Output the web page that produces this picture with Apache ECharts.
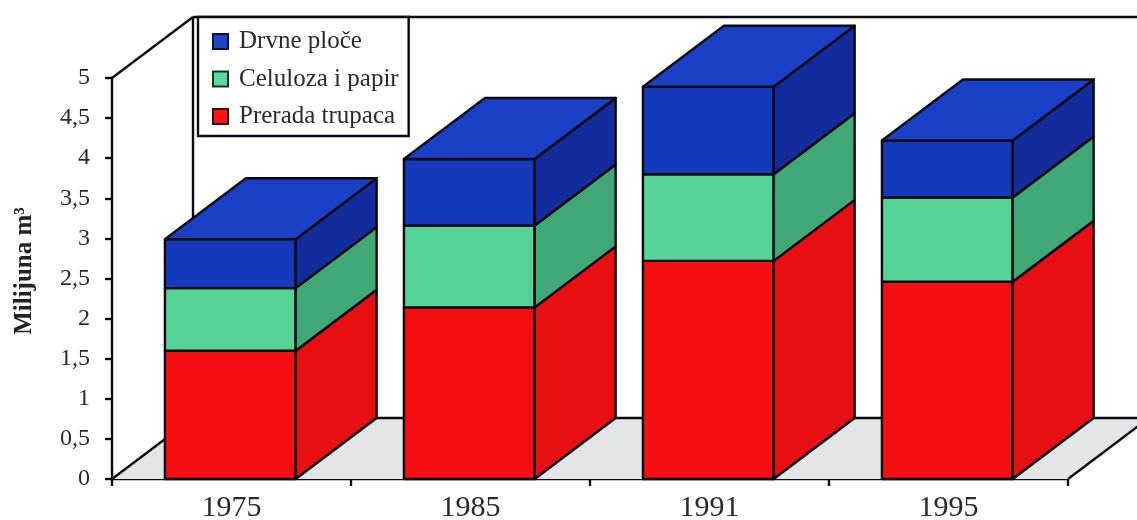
<!DOCTYPE html>
<html><head><meta charset="utf-8">
<style>html,body{margin:0;padding:0;background:#fff}#c{width:1137px;height:520px}</style>
<script src="https://cdn.jsdelivr.net/npm/echarts@6/dist/echarts.min.js"></script>
</head><body><div id="c"></div>
<script>
const years = ['1975','1985','1991','1995'];
const prerada = [1.6, 2.14, 2.72, 2.46];
const celuloza = [0.78, 1.02, 1.08, 1.05];
const drvne = [0.61, 0.83, 1.09, 0.71];
const names = ['Prerada trupaca','Celuloza i papir','Drvne ploče'];
const DX = 81, DY = -61, INK = '#0a0a12', SERIF = '"Liberation Serif","Times New Roman",serif';
const faces = [
  {front:'#f60f12', side:'#e80f12', swatch:'#fb1414', border:'#3a0505'},
  {front:'#56d396', side:'#40a877', swatch:'#5cd79e', border:'#0d3a22'},
  {front:'#1539bb', side:'#132c9c', top:'#1a40c6', swatch:'#1c48c2', border:'#050f40'}
];
const chart = echarts.init(document.getElementById('c'), null, {renderer:'canvas'});
const stacked = [prerada, celuloza, drvne];
function segData(k){
  return years.map((y,i)=>{
    let lo=0; for(let j=0;j<k;j++) lo+=stacked[j][i];
    return [i, lo, lo+stacked[k][i]];
  });
}
function poly(pts, fill){
  return {type:'polygon', shape:{points:pts},
    style:{fill:fill, stroke:INK, lineWidth:2.4, lineJoin:'round'}};
}
function barRender(k){
  return function(params, api){
    const c = api.coord([api.value(0), api.value(1)]);
    const t = api.coord([api.value(0), api.value(2)]);
    const w = api.size([1,0])[0]*0.547;
    const l = c[0]-w/2-1.2, r = c[0]+w/2-1.2, f = faces[k];
    const kids = [
      poly([[l,t[1]],[r,t[1]],[r,c[1]],[l,c[1]]], f.front),
      poly([[r,t[1]],[r+DX,t[1]+DY],[r+DX,c[1]+DY],[r,c[1]]], f.side)
    ];
    if(f.top) kids.push(poly([[l,t[1]],[l+DX,t[1]+DY],[r+DX,t[1]+DY],[r,t[1]]], f.top));
    return {type:'group', children:kids};
  };
}
function frameRender(params, api){
  const o = api.coord([0,0]), tl = api.coord([0,5]), band = api.size([1,0])[0];
  const x0 = o[0]-band/2, x1 = x0+band*years.length, y0 = o[1], y5 = tl[1];
  const line = (a,b)=>({type:'line', shape:{x1:a[0],y1:a[1],x2:b[0],y2:b[1]},
    style:{stroke:INK, lineWidth:2.4}});
  return {type:'group', children:[
    {type:'polygon', shape:{points:[[x0,y0],[x0+DX,y0+DY],[x1+DX,y0+DY],[x1,y0]]},
      style:{fill:'#e4e5e6', stroke:null}},
    line([x0,y5],[x0+DX,y5+DY]),
    line([x0+DX,y5+DY],[x1+DX,y5+DY]),
    line([x0+DX,y5+DY],[x0+DX,y0+DY]),
    line([x0,y0],[x0+DX,y0+DY]),
    line([x0+DX,y0+DY],[x1+DX,y0+DY]),
    line([x1,y0],[x1+DX,y0+DY])
  ]};
}
const option = {
  animation:false,
  grid:{left:112, right:69, top:78, bottom:41, outerBoundsMode:'none'},
  legend:{
    left:198, top:17, orient:'vertical', itemWidth:15, itemHeight:15, itemGap:12.5,
    padding:[12,10,7,14], backgroundColor:'#fff', borderColor:INK, borderWidth:2.4,
    icon:'rect', data:[names[2],names[1],names[0]],
    textStyle:{fontFamily:SERIF, fontSize:25, color:'#2a2a2a', padding:[0,0,0,6]},
    selectedMode:false
  },
  tooltip:{show:false},
  xAxis:{type:'category', data:years,
    axisLine:{lineStyle:{color:INK,width:2.4}},
    axisTick:{show:true, length:7, lineStyle:{color:INK,width:2.4}, alignWithLabel:false},
    axisLabel:{fontFamily:SERIF, fontSize:30, color:'#2a2a2a', margin:14}
  },
  yAxis:{type:'value', min:0, max:5, interval:0.5, splitLine:{show:false},
    name:'Milijuna m³', nameLocation:'middle', nameGap:75, nameRotate:90, nameMoveOverlap:false,
    nameTextStyle:{fontFamily:SERIF, fontSize:25, fontWeight:'bold', color:'#222', padding:[0,0,0,15]},
    axisLine:{show:true, lineStyle:{color:INK,width:2.4}},
    axisTick:{show:true, length:7, lineStyle:{color:INK,width:2.4}},
    axisLabel:{fontFamily:SERIF, fontSize:24, color:'#2a2a2a', margin:22,
      formatter:v=>String(v).replace('.',',')}
  },
  series:[
    {type:'custom', name:'frame', z:1, data:[[0]], renderItem:frameRender, silent:true,
      coordinateSystem:'cartesian2d', encode:{x:0}},
    ...names.map((n,k)=>({type:'custom', name:n, z:3+k, data:segData(k), renderItem:barRender(k),
      silent:true, coordinateSystem:'cartesian2d', encode:{x:0,y:2},
      itemStyle:{color:faces[k].swatch, borderColor:faces[k].border, borderWidth:2}}))
  ]
};
chart.setOption(option);
</script></body></html>
